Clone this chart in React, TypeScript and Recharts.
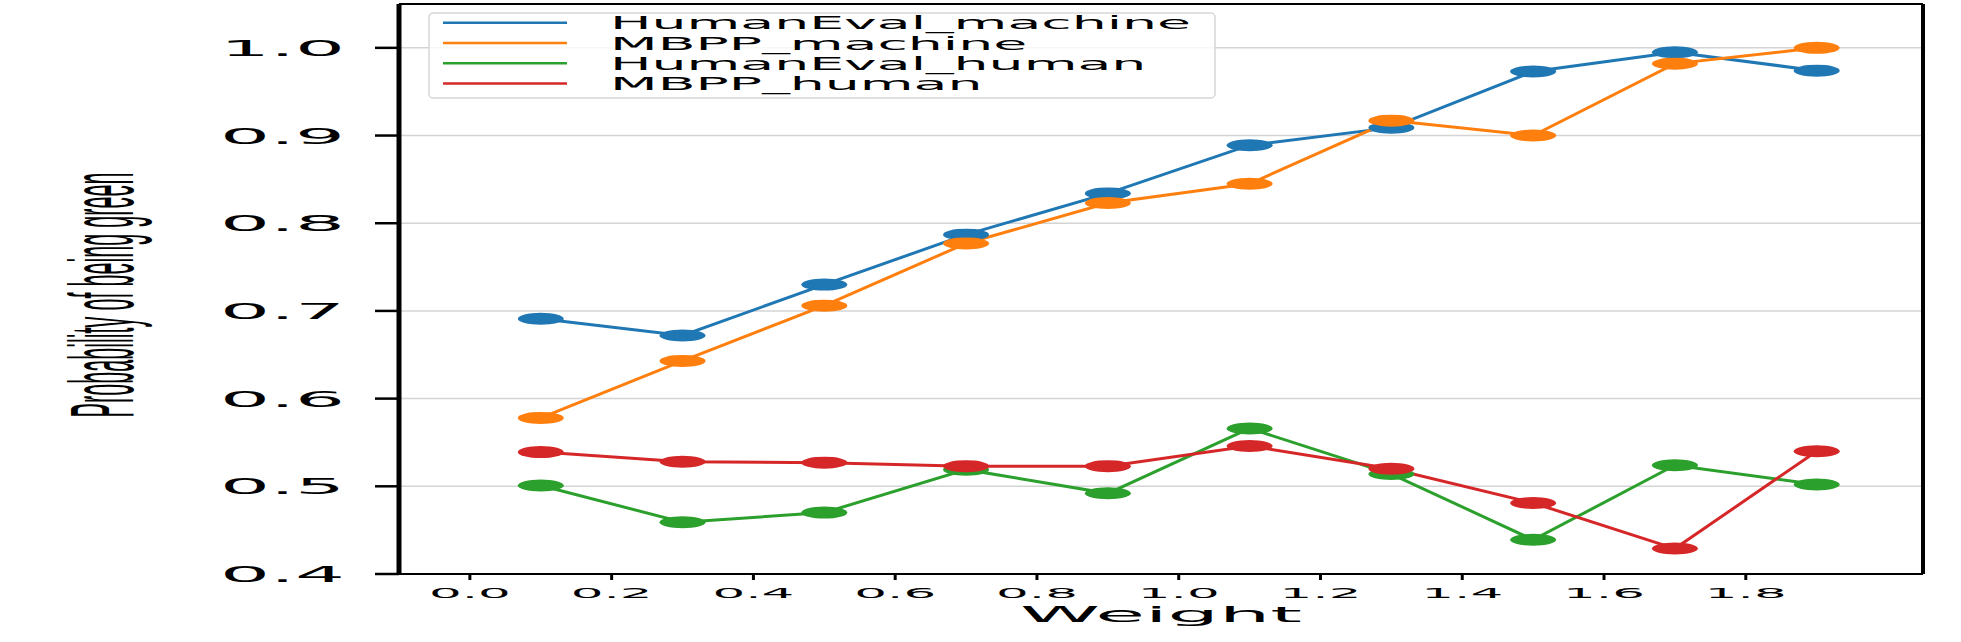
import { CartesianGrid, Legend, Line, LineChart, ReferenceLine, XAxis, YAxis } from "recharts"

// weight values on the x axis
const weights = [0.1, 0.3, 0.5, 0.7, 0.9, 1.1, 1.3, 1.5, 1.7, 1.9]

// probability of being green, one list per series
const humanEvalMachine = [0.691, 0.672, 0.73, 0.787, 0.834, 0.889, 0.909, 0.973, 0.995, 0.974]
const mbppMachine = [0.578, 0.643, 0.706, 0.777, 0.823, 0.845, 0.917, 0.9, 0.982, 1.0]
const humanEvalHuman = [0.501, 0.459, 0.47, 0.519, 0.492, 0.566, 0.514, 0.439, 0.524, 0.502]
const mbppHuman = [0.539, 0.528, 0.527, 0.523, 0.523, 0.546, 0.52, 0.481, 0.429, 0.54]

const seriesNames = ["HumanEval_machine", "MBPP_machine", "HumanEval_human", "MBPP_human"]
const seriesValues = [humanEvalMachine, mbppMachine, humanEvalHuman, mbppHuman]

const xTicks = [0, 0.2, 0.4, 0.6, 0.8, 1.0, 1.2, 1.4, 1.6, 1.8]
const yTicks = [0.4, 0.5, 0.6, 0.7, 0.8, 0.9, 1.0]

const xLabel = "Weight"
const yLabel = "Probability of being green"

const colors = ["#1f77b4", "#ff7f0e", "#2ca02c", "#d62728"]
const font = "'DejaVu Sans', sans-serif"

const data = weights.map((w, i) => {
  const row: Record<string, number> = { w }
  seriesNames.forEach((name, s) => {
    row[name] = seriesValues[s][i]
  })
  return row
})

function XTick(props: any) {
  const { x, y, payload } = props
  return (
    <g transform={`translate(${x},${y})`}>
      <text transform="scale(3.68,1)" textAnchor="middle" dy={10} fontSize={14} fontFamily={font} fill="#000">
        {Number(payload.value).toFixed(1)}
      </text>
    </g>
  )
}

function YTick(props: any) {
  const { x, y, payload } = props
  return (
    <g transform={`translate(${x},${y})`}>
      <text transform="scale(3.57,1)" textAnchor="end" dy={8} fontSize={22} fontFamily={font} fill="#000">
        {Number(payload.value).toFixed(1)}
      </text>
    </g>
  )
}

function XTitle(props: any) {
  const vb = props.viewBox
  const cx = vb.x + vb.width / 2
  return (
    <g transform={`translate(${cx},${vb.y + 48})`}>
      <text transform="scale(3.95,1)" textAnchor="middle" fontSize={20.5} fontFamily={font} fill="#000">
        {xLabel}
      </text>
    </g>
  )
}

// the title is squeezed along its length and stretched across it, as in the picture
function YTitle(props: any) {
  const vb = props.viewBox
  const x = vb.x + 133
  const y = vb.y + vb.height / 2 + 6
  return (
    <g transform={`translate(${x},${y}) rotate(-90) scale(0.9,3.75)`}>
      <text
        x={0}
        y={0}
        textAnchor="middle"
        fontSize={24}
        fontFamily="'Liberation Sans', Arial, sans-serif"
        textLength={272}
        lengthAdjust="spacingAndGlyphs"
        fill="#000"
      >
        {yLabel}
      </text>
    </g>
  )
}

function LegendBox(props: any) {
  const payload = [...(props.payload || [])].sort(
    (a: any, b: any) => seriesNames.indexOf(a.value) - seriesNames.indexOf(b.value),
  )
  return (
    <svg width={790} height={88} style={{ display: "block" }}>
      <rect x={1} y={1} width={786} height={85} rx={4} fill="#fff" fillOpacity={0.8} stroke="#d6d6d6" strokeWidth={1.5} />
      {payload.map((entry: any, i: number) => {
        const cy = 10.7 + i * 20.3
        return (
          <g key={entry.value}>
            <line x1={15} x2={139} y1={cy} y2={cy} stroke={entry.color} strokeWidth={2.5} />
            <g transform={`translate(182,${cy})`}>
              <text transform="scale(3.07,1)" dy={6.5} fontSize={18} fontFamily={font} fill="#000">
                {entry.value}
              </text>
            </g>
          </g>
        )
      })}
    </svg>
  )
}

function makeDot(color: string) {
  return (p: any) => <ellipse key={`d-${p.index}`} cx={p.cx} cy={p.cy} rx={23} ry={6} fill={color} />
}

export default function App() {
  return (
    <div>
      <style>{"body{margin:0;background:#fff}"}</style>
      <LineChart width={1961} height={642} data={data} margin={{ top: 4, right: 38, left: 0, bottom: 0 }}>
        <CartesianGrid vertical={false} stroke="#d4d4d4" strokeWidth={1.5} />
        <XAxis
          type="number"
          dataKey="w"
          domain={[-0.1, 2.05]}
          allowDataOverflow
          ticks={xTicks}
          height={68}
          tickSize={6}
          tickMargin={8}
          axisLine={{ stroke: "#000", strokeWidth: 2 }}
          tickLine={{ stroke: "#000", strokeWidth: 3 }}
          tick={XTick}
          label={XTitle}
        />
        <YAxis
          type="number"
          domain={[0.4, 1.05]}
          allowDataOverflow
          ticks={yTicks}
          width={399}
          tickSize={24}
          tickMargin={30}
          axisLine={{ stroke: "#000", strokeWidth: 5 }}
          tickLine={{ stroke: "#000", strokeWidth: 2.5 }}
          tick={YTick}
          label={YTitle}
        />
        <ReferenceLine y={1.05} stroke="#000" strokeWidth={2} />
        <ReferenceLine x={2.05} stroke="#000" strokeWidth={4} />
        <Legend
          layout="vertical"
          align="center"
          verticalAlign="middle"
          wrapperStyle={{ left: 428, top: 12, width: 790, height: 88 }}
          content={LegendBox}
        />
        {seriesNames.map((name, i) => (
          <Line
            key={name}
            type="linear"
            dataKey={name}
            name={name}
            stroke={colors[i]}
            strokeWidth={3}
            dot={makeDot(colors[i])}
            activeDot={false}
            isAnimationActive={false}
          />
        ))}
      </LineChart>
    </div>
  )
}
